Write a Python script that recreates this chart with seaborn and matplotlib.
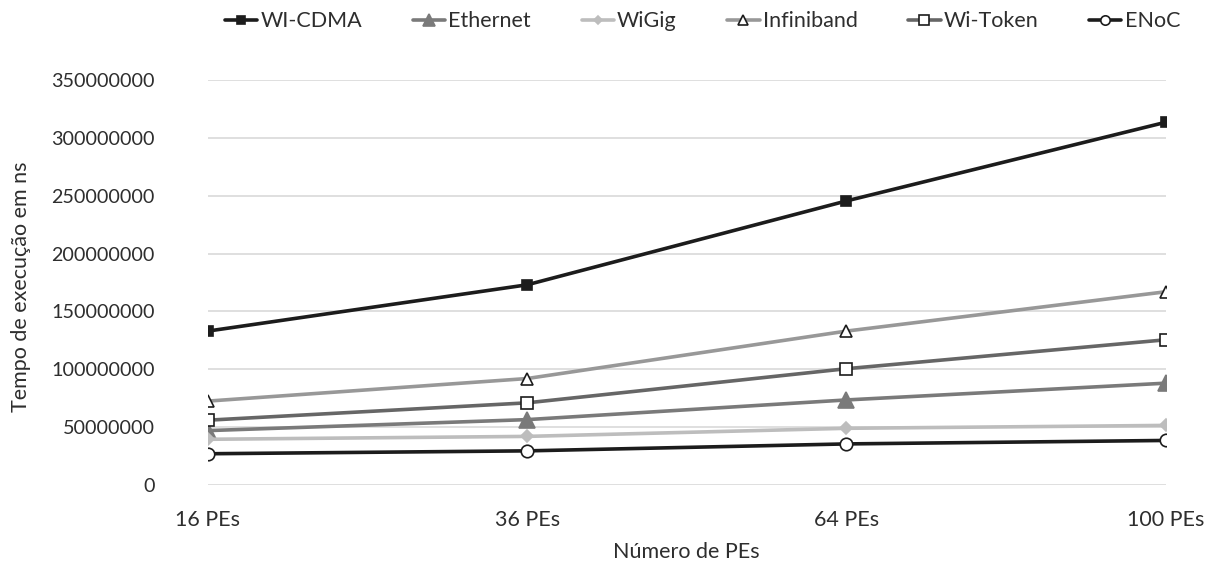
import matplotlib
matplotlib.use("Agg")
import matplotlib.pyplot as plt
import seaborn as sns
import pandas as pd
from matplotlib.ticker import FuncFormatter, MultipleLocator

# Execution time (ns) per network, for each number of processing elements
pes = ["16 PEs", "36 PEs", "64 PEs", "100 PEs"]
wi_cdma = [133000000, 173000000, 245500000, 313500000]
ethernet = [47000000, 56500000, 73500000, 88000000]
wigig = [39500000, 42000000, 49000000, 51500000]
infiniband = [72500000, 92000000, 133000000, 167000000]
wi_token = [56000000, 71000000, 100500000, 125500000]
enoc = [27000000, 29500000, 35500000, 38500000]

series_names = ["WI-CDMA", "Ethernet", "WiGig", "Infiniband", "Wi-Token", "ENoC"]
series_values = [wi_cdma, ethernet, wigig, infiniband, wi_token, enoc]

# line colour, marker, marker face, marker edge, marker size
styles = {
    "WI-CDMA": ("#1c1c1c", "s", "#1c1c1c", "#1c1c1c", 7),
    "Ethernet": ("#7a7a7a", "^", "#7a7a7a", "#7a7a7a", 11),
    "WiGig": ("#bdbdbd", "D", "#bdbdbd", "#bdbdbd", 6),
    "Infiniband": ("#989898", "^", "white", "#1c1c1c", 9),
    "Wi-Token": ("#666666", "s", "white", "#1c1c1c", 9),
    "ENoC": ("#1c1c1c", "o", "white", "#1c1c1c", 9),
}

df = pd.DataFrame(
    [(n, p, v) for n, vals in zip(series_names, series_values) for p, v in zip(pes, vals)],
    columns=["rede", "pes", "tempo"],
)

sns.set_theme(style="white")
plt.rcParams["font.family"] = ["Lato", "DejaVu Sans"]
text_color = "#2e2e2e"
fs = 15.5

fig = plt.figure(figsize=(12.22, 5.65), dpi=100)
ax = fig.add_axes([0.170, 0.1416, 0.784, 0.7168])

for name in series_names:
    color, marker, face, edge, size = styles[name]
    sub = df[df["rede"] == name]
    sns.lineplot(
        data=sub, x="pes", y="tempo", ax=ax, sort=False,
        color=color, linewidth=2.6, marker=marker, markersize=size,
        markerfacecolor=face, markeredgecolor=edge, markeredgewidth=1.2,
        label=name,
    )

ax.set_xlim(0, len(pes) - 1)
ax.set_ylim(0, 350000000)
ax.yaxis.set_major_locator(MultipleLocator(50000000))
ax.yaxis.set_major_formatter(FuncFormatter(lambda v, _: f"{int(round(v))}"))
ax.grid(axis="y", color="#d9d9d9", linewidth=1.2)
ax.grid(axis="x", visible=False)
ax.set_axisbelow(True)
for side in ["top", "right", "left", "bottom"]:
    ax.spines[side].set_visible(False)

ax.tick_params(axis="both", length=0, colors=text_color)
ax.tick_params(axis="x", pad=18, labelsize=fs)
ax.tick_params(axis="y", pad=38, labelsize=14.2)
ax.set_xlabel("Número de PEs", fontsize=fs, color=text_color)
ax.set_ylabel("Tempo de execução em ns", fontsize=fs, color=text_color)
ax.xaxis.set_label_coords(0.5, -0.14)
ax.yaxis.set_label_coords(-0.184, 0.49)

handles, labels = ax.get_legend_handles_labels()
ax.get_legend().remove()
fig.legend(
    handles, labels, loc="center", bbox_to_anchor=(0.575, 0.962),
    ncol=6, frameon=False, fontsize=fs, handlelength=1.5, handletextpad=0.15,
    columnspacing=2.35, labelcolor=text_color, markerscale=0.75,
)

fig.savefig("out.png", dpi=100)
